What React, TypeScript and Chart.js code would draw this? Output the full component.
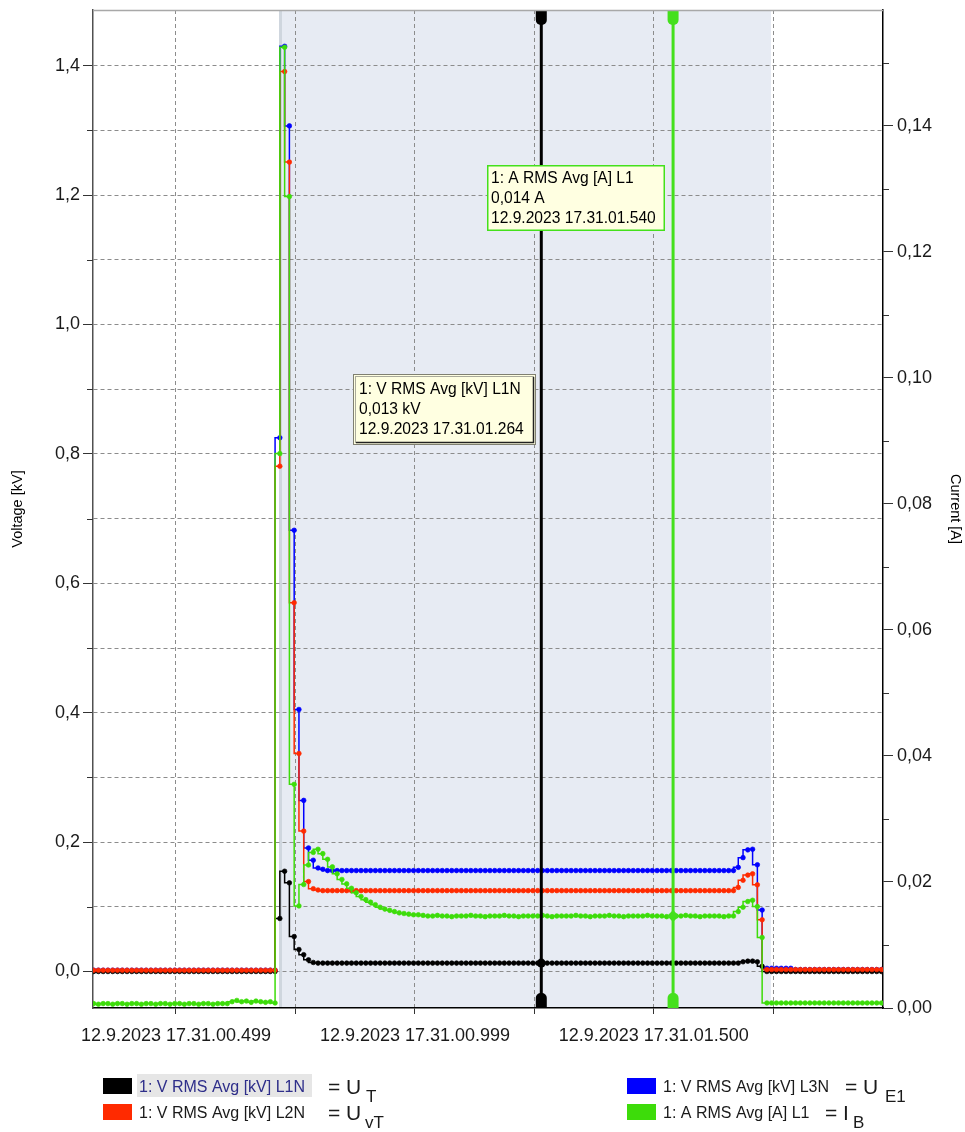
import React, { useEffect, useRef } from 'react';
import { Chart, registerables } from 'chart.js';

Chart.register(...registerables);

// ---- sampling (10 ms RMS values) ----
const SAMPLE_START_S = 0.3265; // seconds after 17:31:00
const SAMPLE_STEP_S = 0.01;

// 1: V RMS Avg [kV] L1N  (= U_T)
const V_L1N = [
  0.000, 0.000, 0.000, 0.000, 0.000, 0.000, 0.000, 0.000, 0.000, 0.000,
  0.000, 0.000, 0.000, 0.000, 0.000, 0.000, 0.000, 0.000, 0.000, 0.000,
  0.000, 0.000, 0.000, 0.000, 0.000, 0.000, 0.000, 0.000, 0.000, 0.000,
  0.000, 0.000, 0.000, 0.000, 0.000, 0.000, 0.000, 0.000, 0.000, 0.082,
  0.155, 0.137, 0.054, 0.034, 0.026, 0.018, 0.014, 0.013, 0.013, 0.013,
  0.013, 0.013, 0.013, 0.013, 0.013, 0.013, 0.013, 0.013, 0.013, 0.013,
  0.013, 0.013, 0.013, 0.013, 0.013, 0.013, 0.013, 0.013, 0.013, 0.013,
  0.013, 0.013, 0.013, 0.013, 0.013, 0.013, 0.013, 0.013, 0.013, 0.013,
  0.013, 0.013, 0.013, 0.013, 0.013, 0.013, 0.013, 0.013, 0.013, 0.013,
  0.013, 0.013, 0.013, 0.013, 0.013, 0.013, 0.013, 0.013, 0.013, 0.013,
  0.013, 0.013, 0.013, 0.013, 0.013, 0.013, 0.013, 0.013, 0.013, 0.013,
  0.013, 0.013, 0.013, 0.013, 0.013, 0.013, 0.013, 0.013, 0.013, 0.013,
  0.013, 0.013, 0.013, 0.013, 0.013, 0.013, 0.013, 0.013, 0.013, 0.013,
  0.013, 0.013, 0.013, 0.013, 0.013, 0.013, 0.015, 0.016, 0.016, 0.015,
  0.008, 0.000, 0.000, 0.000, 0.000, 0.000, 0.000, 0.000, 0.000, 0.000,
  0.000, 0.000, 0.000, 0.000, 0.000, 0.000, 0.000, 0.000, 0.000, 0.000,
  0.000, 0.000, 0.000, 0.000, 0.000, 0.000,
];

// 1: V RMS Avg [kV] L2N  (= U_vT)
const V_L2N = [
  0.002, 0.002, 0.002, 0.002, 0.002, 0.002, 0.002, 0.002, 0.002, 0.002,
  0.002, 0.002, 0.002, 0.002, 0.002, 0.002, 0.002, 0.002, 0.002, 0.002,
  0.002, 0.002, 0.002, 0.002, 0.002, 0.002, 0.002, 0.002, 0.002, 0.002,
  0.002, 0.002, 0.002, 0.002, 0.002, 0.002, 0.002, 0.002, 0.002, 0.781,
  1.391, 1.251, 0.570, 0.337, 0.217, 0.139, 0.128, 0.126, 0.125, 0.125,
  0.125, 0.125, 0.125, 0.125, 0.125, 0.125, 0.125, 0.125, 0.125, 0.125,
  0.125, 0.125, 0.125, 0.125, 0.125, 0.125, 0.125, 0.125, 0.125, 0.125,
  0.125, 0.125, 0.125, 0.125, 0.125, 0.125, 0.125, 0.125, 0.125, 0.125,
  0.125, 0.125, 0.125, 0.125, 0.125, 0.125, 0.125, 0.125, 0.125, 0.125,
  0.125, 0.125, 0.125, 0.125, 0.125, 0.125, 0.125, 0.125, 0.125, 0.125,
  0.125, 0.125, 0.125, 0.125, 0.125, 0.125, 0.125, 0.125, 0.125, 0.125,
  0.125, 0.125, 0.125, 0.125, 0.125, 0.125, 0.125, 0.125, 0.125, 0.125,
  0.125, 0.125, 0.125, 0.125, 0.125, 0.125, 0.125, 0.125, 0.125, 0.125,
  0.125, 0.125, 0.125, 0.125, 0.125, 0.130, 0.141, 0.149, 0.151, 0.134,
  0.080, 0.003, 0.003, 0.003, 0.003, 0.003, 0.003, 0.003, 0.003, 0.003,
  0.003, 0.003, 0.003, 0.003, 0.003, 0.003, 0.003, 0.003, 0.003, 0.003,
  0.003, 0.003, 0.003, 0.003, 0.003, 0.003,
];

// 1: V RMS Avg [kV] L3N  (= U_E1)
const V_L3N = [
  0.002, 0.002, 0.002, 0.002, 0.002, 0.002, 0.002, 0.002, 0.002, 0.002,
  0.002, 0.002, 0.002, 0.002, 0.002, 0.002, 0.002, 0.002, 0.002, 0.002,
  0.002, 0.002, 0.002, 0.002, 0.002, 0.002, 0.002, 0.002, 0.002, 0.002,
  0.002, 0.002, 0.002, 0.002, 0.002, 0.002, 0.002, 0.002, 0.002, 0.825,
  1.430, 1.307, 0.682, 0.405, 0.2645, 0.191, 0.172, 0.160, 0.158, 0.156,
  0.156, 0.156, 0.156, 0.156, 0.156, 0.156, 0.156, 0.156, 0.156, 0.156,
  0.156, 0.156, 0.156, 0.156, 0.156, 0.156, 0.156, 0.156, 0.156, 0.156,
  0.156, 0.156, 0.156, 0.156, 0.156, 0.156, 0.156, 0.156, 0.156, 0.156,
  0.156, 0.156, 0.156, 0.156, 0.156, 0.156, 0.156, 0.156, 0.156, 0.156,
  0.156, 0.156, 0.156, 0.156, 0.156, 0.156, 0.156, 0.156, 0.156, 0.156,
  0.156, 0.156, 0.156, 0.156, 0.156, 0.156, 0.156, 0.156, 0.156, 0.156,
  0.156, 0.156, 0.156, 0.156, 0.156, 0.156, 0.156, 0.156, 0.156, 0.156,
  0.156, 0.156, 0.156, 0.156, 0.156, 0.156, 0.156, 0.156, 0.156, 0.156,
  0.156, 0.156, 0.156, 0.156, 0.156, 0.161, 0.176, 0.188, 0.189, 0.165,
  0.095, 0.005, 0.005, 0.005, 0.005, 0.005, 0.005, 0.003, 0.003, 0.003,
  0.003, 0.003, 0.003, 0.003, 0.003, 0.003, 0.003, 0.003, 0.003, 0.003,
  0.003, 0.003, 0.003, 0.003, 0.003, 0.003,
];

// 1: A RMS Avg [A] L1  (= I_B)
const A_L1 = [
  0.0007, 0.0006, 0.0007, 0.0007, 0.0006, 0.0007, 0.0007, 0.0006, 0.0007, 0.0007,
  0.0006, 0.0007, 0.0007, 0.0006, 0.0007, 0.0007, 0.0006, 0.0007, 0.0007, 0.0006,
  0.0007, 0.0007, 0.0006, 0.0007, 0.0007, 0.0006, 0.0007, 0.0007, 0.0007, 0.0010,
  0.0012, 0.0010, 0.0011, 0.0009, 0.0011, 0.0010, 0.0009, 0.0010, 0.0008, 0.088,
  0.1525, 0.1288, 0.0355, 0.0162, 0.0196, 0.0227, 0.0247, 0.0252, 0.0245, 0.0236,
  0.0224, 0.0213, 0.0204, 0.0197, 0.0190, 0.0183, 0.0177, 0.0172, 0.0168, 0.0164,
  0.0160, 0.0157, 0.0155, 0.0153, 0.0151, 0.0150, 0.0149, 0.0148, 0.0148, 0.0147,
  0.0146, 0.0146, 0.0147, 0.0146, 0.0146, 0.0145, 0.0146, 0.0146, 0.0146, 0.0147,
  0.0146, 0.0146, 0.0145, 0.0146, 0.0146, 0.0146, 0.0147, 0.0146, 0.0146, 0.0145,
  0.0146, 0.0146, 0.0146, 0.0146, 0.0147, 0.0146, 0.0145, 0.0146, 0.0146, 0.0146,
  0.0146, 0.0147, 0.0146, 0.0146, 0.0145, 0.0146, 0.0146, 0.0146, 0.0147, 0.0146,
  0.0146, 0.0145, 0.0146, 0.0146, 0.0146, 0.0146, 0.0147, 0.0146, 0.0146, 0.0146,
  0.0145, 0.0146, 0.0146, 0.0146, 0.0147, 0.0146, 0.0146, 0.0145, 0.0146, 0.0146,
  0.0146, 0.0146, 0.0145, 0.0146, 0.0146, 0.0153, 0.0160, 0.0169, 0.0171, 0.0161,
  0.0112, 0.0008, 0.0008, 0.0008, 0.0008, 0.0008, 0.0008, 0.0008, 0.0008, 0.0008,
  0.0008, 0.0008, 0.0008, 0.0008, 0.0008, 0.0008, 0.0008, 0.0008, 0.0008, 0.0008,
  0.0008, 0.0008, 0.0008, 0.0008, 0.0008, 0.0008,
];

// ---- axes ----
const X_MIN = 0.3252;
const X_MAX = 1.9796;
const X_TICKS = [0.499, 0.7495, 0.9995, 1.2495, 1.4995, 1.7495];
const X_TICK_LABELS = [
  '12.9.2023 17.31.00.499', '', '12.9.2023 17.31.00.999', '', '12.9.2023 17.31.01.500', '',
];

const V_MIN = -0.0564;
const V_MAX = 1.4861;
const V_TICKS = [0, 0.1, 0.2, 0.3, 0.4, 0.5, 0.6, 0.7, 0.8, 0.9, 1.0, 1.1, 1.2, 1.3, 1.4];
const V_TICK_LABELS = ['0,0', '', '0,2', '', '0,4', '', '0,6', '', '0,8', '', '1,0', '', '1,2', '', '1,4'];

const A_MIN = 0;
const A_MAX = 0.15841;
const A_TICKS = [0, 0.01, 0.02, 0.03, 0.04, 0.05, 0.06, 0.07, 0.08, 0.09, 0.1, 0.11, 0.12, 0.13, 0.14, 0.15];
const A_TICK_LABELS = ['0,00', '', '0,02', '', '0,04', '', '0,06', '', '0,08', '', '0,10', '', '0,12', '', '0,14', ''];

// ---- annotations ----
const SHADE_START = 0.7147;
const SHADE_END = 1.7451;
const CURSOR_V_TIME = 1.264;
const CURSOR_V_VALUE = 0.013;
const CURSOR_A_TIME = 1.540;
const CURSOR_A_VALUE = 0.0146;
const TIP_V_LINES = ['1: V RMS Avg [kV] L1N', '0,013 kV', '12.9.2023 17.31.01.264'];
const TIP_A_LINES = ['1: A RMS Avg [A] L1', '0,014 A', '12.9.2023 17.31.01.540'];

const COLOR_L1N = '#000000';
const COLOR_L2N = '#ff2a00';
const COLOR_L3N = '#0000ff';
const COLOR_A = '#3ddc0a';

const LEGEND = [
  { label: '1: V RMS Avg [kV] L1N', color: COLOR_L1N, sym: '= U', sub: 'T' },
  { label: '1: V RMS Avg [kV] L2N', color: COLOR_L2N, sym: '= U', sub: 'vT' },
  { label: '1: V RMS Avg [kV] L3N', color: COLOR_L3N, sym: '= U', sub: 'E1' },
  { label: '1: A RMS Avg [A] L1', color: COLOR_A, sym: '= I', sub: 'B' },
];

const FONT = "'Liberation Sans', Arial, sans-serif";

function toPoints(values: number[]) {
  return values.map((v, k) => ({ x: SAMPLE_START_S + SAMPLE_STEP_S * k, y: v }));
}

function drawCursor(ctx: CanvasRenderingContext2D, x: number, top: number, bottom: number, color: string) {
  ctx.save();
  ctx.strokeStyle = color;
  ctx.lineWidth = 3;
  ctx.beginPath();
  ctx.moveTo(x, top);
  ctx.lineTo(x, bottom);
  ctx.stroke();
  ctx.fillStyle = color;
  ctx.beginPath();
  (ctx as any).roundRect(x - 5.5, top, 11, 15, [0, 0, 5, 5]);
  ctx.fill();
  ctx.beginPath();
  (ctx as any).roundRect(x - 5.5, bottom - 15, 11, 15, [5, 5, 0, 0]);
  ctx.fill();
  ctx.restore();
}

const overlayPlugin = {
  id: 'overlay',
  beforeDraw(chart: any) {
    const { ctx, chartArea, scales } = chart;
    ctx.save();
    ctx.fillStyle = '#ffffff';
    ctx.fillRect(0, 0, chart.width, chart.height);
    const x0 = scales.x.getPixelForValue(SHADE_START);
    const x1 = scales.x.getPixelForValue(SHADE_END);
    ctx.fillStyle = '#e7ebf3';
    ctx.fillRect(x0, chartArea.top, x1 - x0, chartArea.bottom - chartArea.top);
    ctx.fillStyle = '#cfd6de';
    ctx.fillRect(x0, chartArea.top, 3, chartArea.bottom - chartArea.top);
    ctx.restore();
  },
  afterDatasetsDraw(chart: any) {
    const { ctx, chartArea, scales } = chart;
    const xv = scales.x.getPixelForValue(CURSOR_V_TIME);
    const xa = scales.x.getPixelForValue(CURSOR_A_TIME);
    drawCursor(ctx, xv, chartArea.top, chartArea.bottom, '#000000');
    drawCursor(ctx, xa, chartArea.top, chartArea.bottom, '#44e01c');
    ctx.save();
    ctx.fillStyle = '#000000';
    ctx.beginPath();
    ctx.arc(xv, scales.y.getPixelForValue(CURSOR_V_VALUE), 4.5, 0, Math.PI * 2);
    ctx.fill();
    const ya = scales.yA.getPixelForValue(CURSOR_A_VALUE);
    ctx.fillStyle = '#44e01c';
    ctx.beginPath();
    ctx.moveTo(xa, ya - 6);
    ctx.lineTo(xa + 6, ya);
    ctx.lineTo(xa, ya + 6);
    ctx.lineTo(xa - 6, ya);
    ctx.closePath();
    ctx.fill();
    ctx.restore();
  },
  afterDraw(chart: any) {
    const { ctx, chartArea, scales } = chart;
    ctx.save();
    // top frame line
    ctx.strokeStyle = '#a8a8a8';
    ctx.lineWidth = 1.5;
    ctx.beginPath();
    ctx.moveTo(chartArea.left, chartArea.top + 0.5);
    ctx.lineTo(chartArea.right, chartArea.top + 0.5);
    ctx.stroke();
    // minor ticks
    ctx.strokeStyle = '#333333';
    ctx.lineWidth = 1;
    V_TICKS.forEach((v, i) => {
      if (V_TICK_LABELS[i] !== '') return;
      const y = Math.round(scales.y.getPixelForValue(v)) + 0.5;
      ctx.beginPath();
      ctx.moveTo(chartArea.left - 6, y);
      ctx.lineTo(chartArea.left, y);
      ctx.stroke();
    });
    A_TICKS.forEach((v, i) => {
      if (A_TICK_LABELS[i] !== '') return;
      const y = Math.round(scales.yA.getPixelForValue(v)) + 0.5;
      ctx.beginPath();
      ctx.moveTo(chartArea.right, y);
      ctx.lineTo(chartArea.right + 6, y);
      ctx.stroke();
    });

    // tooltip: current
    ctx.font = `15.6px ${FONT}`;
    ctx.textBaseline = 'alphabetic';
    ctx.textAlign = 'left';
    ctx.fillStyle = '#ffffe1';
    ctx.fillRect(487, 165, 178, 66);
    ctx.strokeStyle = '#44e01c';
    ctx.lineWidth = 1.5;
    ctx.strokeRect(487.75, 165.75, 176.5, 64.5);
    ctx.fillStyle = '#000000';
    TIP_A_LINES.forEach((t, i) => ctx.fillText(t, 491, 183 + i * 20));

    // tooltip: voltage
    ctx.fillStyle = '#ffffe1';
    ctx.fillRect(353, 374, 183, 71);
    ctx.strokeStyle = '#000000';
    ctx.lineWidth = 1;
    ctx.setLineDash([1, 1]);
    ctx.strokeRect(353.5, 374.5, 182, 70);
    ctx.strokeStyle = '#555555';
    ctx.strokeRect(355.5, 376.5, 178, 66);
    ctx.setLineDash([]);
    ctx.strokeStyle = '#222222';
    ctx.lineWidth = 1.5;
    ctx.beginPath();
    ctx.moveTo(533.5, 377);
    ctx.lineTo(533.5, 442.5);
    ctx.lineTo(356, 442.5);
    ctx.stroke();
    ctx.fillStyle = '#000000';
    TIP_V_LINES.forEach((t, i) => ctx.fillText(t, 359, 394 + i * 20));

    // legend
    const cols = [103, 627];
    const rows = [1078, 1104];
    const symX = [328, 328, 845, 825];
    const subX = [366, 365, 885, 853];
    LEGEND.forEach((e, i) => {
      const cx = cols[Math.floor(i / 2)];
      const ry = rows[i % 2];
      ctx.fillStyle = e.color;
      ctx.fillRect(cx, ry, 29, 16);
      if (i === 0) {
        ctx.fillStyle = '#e6e6e6';
        ctx.fillRect(cx + 34, ry - 4, 175, 23);
      }
      ctx.font = `16px ${FONT}`;
      ctx.fillStyle = i === 0 ? '#2e2e8a' : '#1a1a1a';
      ctx.fillText(e.label, cx + 36, ry + 14);
      ctx.fillStyle = '#1a1a1a';
      ctx.font = `21px ${FONT}`;
      ctx.fillText(e.sym, symX[i], ry + 16);
      ctx.font = `17px ${FONT}`;
      ctx.fillText(e.sub, subX[i], ry + 24);
    });
    ctx.restore();
  },
};

export default function App() {
  const ref = useRef<HTMLCanvasElement>(null);
  useEffect(() => {
    const canvas = ref.current;
    if (!canvas) return;
    const lineDs = (label: string, values: number[], color: string, axis: string, order: number) => ({
      label,
      data: toPoints(values),
      borderColor: color,
      backgroundColor: color,
      pointBackgroundColor: color,
      pointBorderColor: color,
      borderWidth: 1.5,
      pointRadius: 2.3,
      pointBorderWidth: 0.7,
      pointHoverRadius: 2.3,
      stepped: 'after',
      fill: false,
      yAxisID: axis,
      order,
    });
    const chart = new Chart(canvas, {
      type: 'line',
      data: {
        datasets: [
          lineDs(LEGEND[0].label, V_L1N, COLOR_L1N, 'y', 2),
          lineDs(LEGEND[1].label, V_L2N, COLOR_L2N, 'y', 1),
          lineDs(LEGEND[2].label, V_L3N, COLOR_L3N, 'y', 3),
          lineDs(LEGEND[3].label, A_L1, COLOR_A, 'yA', 0),
        ] as any,
      },
      options: {
        animation: false,
        responsive: false,
        devicePixelRatio: 1,
        parsing: false as any,
        normalized: true,
        layout: { padding: { top: 10, bottom: 80, left: 0, right: 0 } },
        plugins: { legend: { display: false }, tooltip: { enabled: false }, title: { display: false } },
        events: [],
        scales: {
          x: {
            type: 'linear',
            position: 'bottom',
            min: X_MIN,
            max: X_MAX,
            afterBuildTicks: (s: any) => { s.ticks = X_TICKS.map((v) => ({ value: v })); },
            afterFit: (s: any) => { s.height = 44; s.paddingLeft = 0; s.paddingRight = 0; },
            ticks: {
              autoSkip: false,
              maxRotation: 0,
              minRotation: 0,
              padding: 11,
              color: '#1a1a1a',
              font: { family: FONT, size: 18 },
              callback: (_v: any, i: number) => X_TICK_LABELS[i],
            },
            grid: { color: '#8c8c8c', lineWidth: 1, tickLength: 6, tickColor: '#333333', tickWidth: 1 },
            border: { display: true, color: '#000000', width: 1.5, dash: [4, 3] },
          },
          y: {
            type: 'linear',
            position: 'left',
            min: V_MIN,
            max: V_MAX,
            afterBuildTicks: (s: any) => { s.ticks = V_TICKS.map((v) => ({ value: v })); },
            afterFit: (s: any) => { s.width = 93; s.paddingTop = 0; s.paddingBottom = 0; },
            ticks: {
              autoSkip: false,
              padding: 3,
              color: '#1a1a1a',
              font: { family: FONT, size: 18 },
              callback: (_v: any, i: number) => V_TICK_LABELS[i],
            },
            grid: {
              color: '#8c8c8c',
              lineWidth: 1,
              tickLength: 10,
              tickWidth: 1,
              tickColor: (c: any) => (V_TICK_LABELS[c.index] ? '#333333' : 'rgba(0,0,0,0)'),
            },
            border: { display: true, color: '#505050', width: 1.5, dash: [4, 3] },
            title: {
              display: true,
              text: 'Voltage [kV]',
              color: '#000000',
              font: { family: FONT, size: 14.5 },
              padding: { top: 9, bottom: 0 },
            },
          },
          yA: {
            type: 'linear',
            position: 'right',
            min: A_MIN,
            max: A_MAX,
            afterBuildTicks: (s: any) => { s.ticks = A_TICKS.map((v) => ({ value: v })); },
            afterFit: (s: any) => { s.width = 82; s.paddingTop = 0; s.paddingBottom = 0; },
            ticks: {
              autoSkip: false,
              padding: 4,
              color: '#1a1a1a',
              font: { family: FONT, size: 18 },
              callback: (_v: any, i: number) => A_TICK_LABELS[i],
            },
            grid: {
              drawOnChartArea: false,
              tickLength: 10,
              tickWidth: 1,
              tickColor: (c: any) => (A_TICK_LABELS[c.index] ? '#333333' : 'rgba(0,0,0,0)'),
            },
            border: { display: true, color: '#000000', width: 1.5 },
            title: {
              display: true,
              text: 'Current [A]',
              color: '#000000',
              font: { family: FONT, size: 14.5 },
              padding: { top: 1, bottom: 0 },
            },
          },
        },
      } as any,
      plugins: [overlayPlugin],
    });
    return () => chart.destroy();
  }, []);

  return (
    <div style={{ position: 'absolute', left: 0, top: 0, width: 965, height: 1132, background: '#ffffff' }}>
      <canvas ref={ref} width={965} height={1132} style={{ display: 'block', width: 965, height: 1132 }} />
    </div>
  );
}
